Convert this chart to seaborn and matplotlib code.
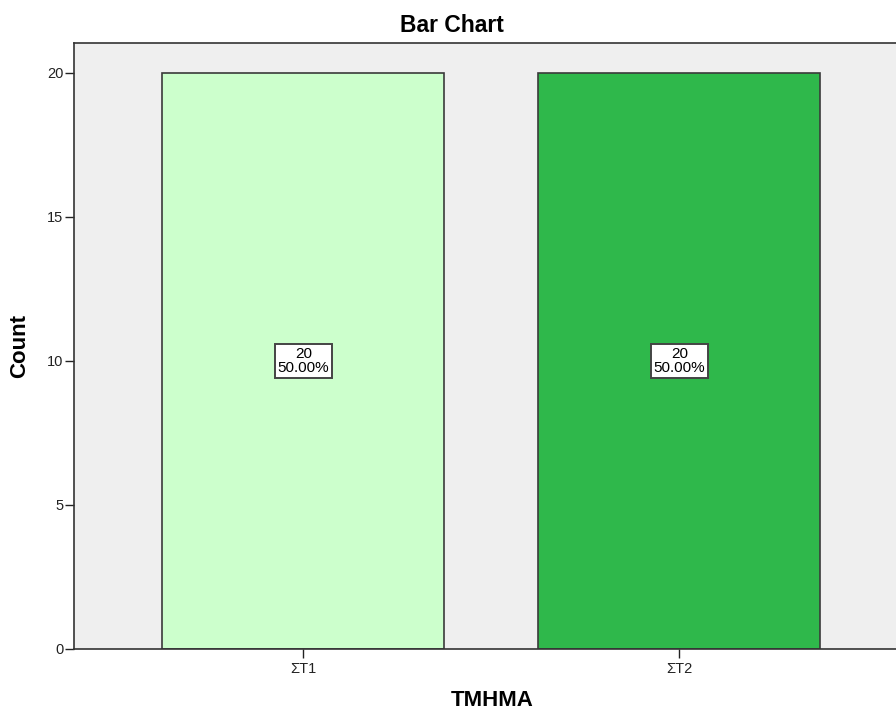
import matplotlib
matplotlib.use("Agg")
import matplotlib.pyplot as plt
import seaborn as sns
import pandas as pd

categories = ["ΣΤ1", "ΣΤ2"]
counts = [20, 20]
percents = [50.00, 50.00]
bar_colors = ["#CCFFCC", "#2FB84B"]

sns.set_theme(style="white")
plt.rcParams["font.family"] = ["Liberation Sans", "DejaVu Sans"]
plt.rcParams["text.color"] = "black"
plt.rcParams["axes.labelcolor"] = "black"

df = pd.DataFrame({"TMHMA": categories, "Count": counts})

W, H = 896, 713
fig = plt.figure(figsize=(W / 100, H / 100), dpi=100)
ax = fig.add_axes([74 / W, (H - 649) / H, 1 - 74 / W, (649 - 43) / H])
ax.set_facecolor("#EFEFEF")

sns.barplot(data=df, x="TMHMA", y="Count", hue="TMHMA", palette=bar_colors,
            width=0.75, edgecolor="#3A3A3A", linewidth=1.2, legend=False, ax=ax,
            saturation=1)

# value / percentage boxes at mid-height of each bar
for i, (c, p) in enumerate(zip(counts, percents)):
    ax.text(i, c / 2, f"{c}\n{p:.2f}%", ha="center", va="center", fontsize=11,
            linespacing=1.05, color="black",
            bbox=dict(boxstyle="square,pad=0.2", facecolor="white",
                      edgecolor="#444444", linewidth=1.4))

ax.set_xlim(-0.61, 1.576)
ax.set_ylim(0, 21.04)
ax.set_yticks([0, 5, 10, 15, 20])
ax.tick_params(axis="both", which="both", length=6.5, width=1, color="#222222",
               labelsize=10.5, labelcolor="#222222", direction="out",
               bottom=True, left=True)
ax.tick_params(axis="x", pad=3)
ax.tick_params(axis="y", pad=1)

for side in ["left", "bottom", "top"]:
    ax.spines[side].set_visible(True)
    ax.spines[side].set_color("#333333")
    ax.spines[side].set_linewidth(1.2)
ax.spines["right"].set_visible(False)

ax.set_xlabel("TMHMA", fontsize=16, fontweight="bold")
ax.set_ylabel("Count", fontsize=16, fontweight="bold")
ax_w = W - 74
ax_h = 649 - 43
ax.xaxis.set_label_coords((492 - 74) / ax_w, -(690 - 649) / ax_h)
ax.yaxis.set_label_coords(-(74 - 30) / ax_w, 0.5)

fig.text(452 / W, 1 - 32.5 / H, "Bar Chart", ha="center", va="baseline",
         fontsize=16.5, fontweight="bold")

fig.savefig("out.png", dpi=100)
